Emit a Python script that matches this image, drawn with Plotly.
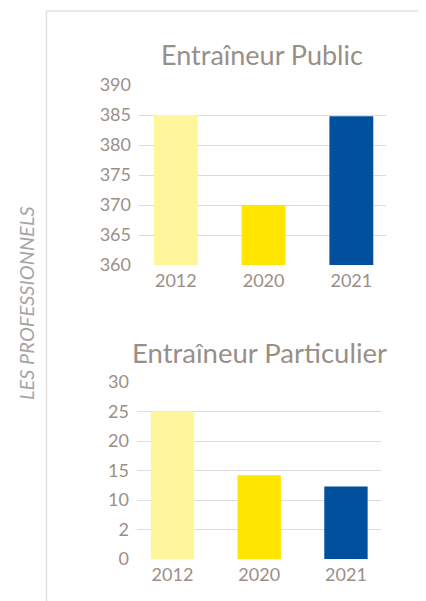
import plotly.graph_objects as go

years = ["2012", "2020", "2021"]
public_vals = [385, 370, 384.8]
particulier_vals = [25, 14.2, 12.3]
bar_colors = ["#FFF59A", "#FFE500", "#00509D"]
public_ticks = [360, 365, 370, 375, 380, 385, 390]
part_tickvals = [0, 5, 10, 15, 20, 25, 30]
part_ticktext = ["0", "2", "10", "15", "20", "25", "30"]
title_public = "Entraîneur Public"
title_part = "Entraîneur Particulier"
side_label = "LES PROFESSIONNELS"

# page body has an 8px margin; figure coordinates are offset accordingly
OFF = 8
W, H = 426 - OFF, 601 - OFF
TXT = "#9A8F87"
GRID = "#DCDCDC"
FONT = "Lato"

def py(px):
    return 1 - (px - OFF) / H

def px_x(px):
    return (px - OFF) / W

fig = go.Figure()
fig.add_trace(go.Bar(x=years, y=public_vals, marker=dict(color=bar_colors, line=dict(width=0)),
                     xaxis="x", yaxis="y", showlegend=False))
fig.add_trace(go.Bar(x=years, y=particulier_vals, marker=dict(color=bar_colors, line=dict(width=0)),
                     xaxis="x2", yaxis="y2", showlegend=False))

axis_common = dict(showline=False, zeroline=False, automargin=False,
                   tickfont=dict(family=FONT, size=18, color=TXT))

fig.update_layout(
    width=W, height=H,
    margin=dict(l=0, r=0, t=0, b=0, autoexpand=False),
    paper_bgcolor="white", plot_bgcolor="white",
    bargap=0.5,
    xaxis=dict(domain=[px_x(139), px_x(386)], range=[-0.42, 2.395], anchor="y", showgrid=False,
               ticks="", ticklabelstandoff=3, **axis_common),
    yaxis=dict(domain=[py(265), py(85)], range=[360, 390], tickvals=public_ticks, anchor="x",
               showgrid=True, gridcolor=GRID, gridwidth=1, ticks="", ticklabelstandoff=7, **axis_common),
    xaxis2=dict(domain=[px_x(137), px_x(381)], range=[-0.409, 2.404], anchor="y2", showgrid=False,
                ticks="", ticklabelstandoff=3, **axis_common),
    yaxis2=dict(domain=[py(559), py(382)], range=[0, 30], tickvals=part_tickvals, ticktext=part_ticktext,
                anchor="x2", showgrid=True, gridcolor=GRID, gridwidth=1, ticks="", ticklabelstandoff=7, **axis_common),
    font=dict(family=FONT, color=TXT),
)

fig.add_annotation(text=title_public, xref="paper", yref="paper", x=px_x(262), y=py(55),
                   showarrow=False, font=dict(family=FONT, size=27, color=TXT), xanchor="center", yanchor="middle")
fig.add_annotation(text=title_part, xref="paper", yref="paper", x=px_x(259), y=py(352),
                   showarrow=False, font=dict(family=FONT, size=27.5, color=TXT), xanchor="center", yanchor="middle")
fig.add_annotation(text="<i>" + side_label + "</i>", xref="paper", yref="paper", x=px_x(26), y=py(303),
                   showarrow=False, textangle=-90, font=dict(family=FONT, size=20, color="#A5A5A5"),
                   xanchor="center", yanchor="middle")

fig.add_shape(type="line", xref="paper", yref="paper", x0=px_x(46.5), x1=px_x(46.5), y0=0, y1=py(11),
              line=dict(color="#E3E3E3", width=1.5))
fig.add_shape(type="line", xref="paper", yref="paper", x0=px_x(46.5), x1=1, y0=py(11), y1=py(11),
              line=dict(color="#E3E3E3", width=1.5))

fig.write_html("out.html")
